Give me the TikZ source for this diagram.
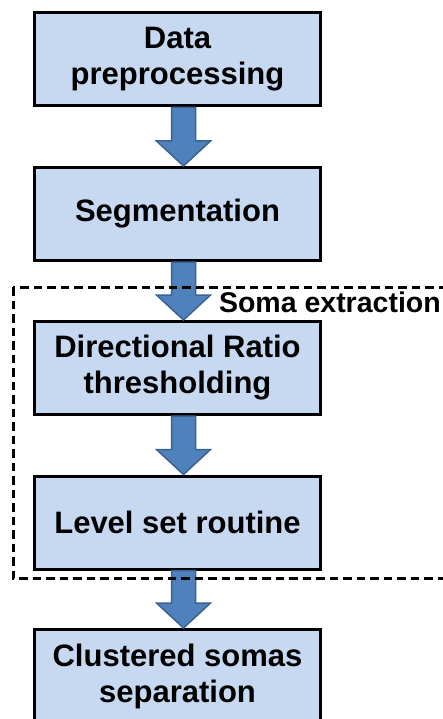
\documentclass[tikz,border=0pt]{standalone}
\usepackage{fontspec}
\setmainfont{Liberation Sans}
\usetikzlibrary{calc}
\definecolor{boxfill}{HTML}{C6D9F1}
\definecolor{arrowfill}{HTML}{4F81BD}
\definecolor{arrowline}{HTML}{3A6394}
\tikzset{
  stage/.style={draw=black, line width=3pt, fill=boxfill, minimum width=286pt, minimum height=93pt,
    inner sep=0pt, align=center, font=\fontsize{31}{36}\selectfont\bfseries},
  flowarrow/.style={fill=arrowfill, draw=arrowline, line width=1.5pt, line join=miter},
  somaframe/.style={draw=black, line width=3pt, dash pattern=on 8.5pt off 5pt}
}
\begin{document}
\begin{tikzpicture}[x=1pt, y=-1pt]
  \useasboundingbox (0,0) rectangle (443,719);
  \clip (0,0) rectangle (443,719);
  \node[stage] (prep) at (177.5, 59.5) {Data\\preprocessing};
  \node[stage] (seg) at (177.5, 214) {Segmentation};
  \node[stage] (ratio) at (177.5, 368) {Directional Ratio\\thresholding};
  \node[stage] (level) at (177.5, 522.5) {Level set routine};
  \node[stage] (sep) at (177.5, 676) {Clustered somas\\separation};
  \foreach \a/\b in {prep/seg, seg/ratio, ratio/level, level/sep} {
    \draw[flowarrow] ($(\a.south)+(-6,0)$) -- ($(\a.south)+(18,0)$) -- ($(\b.north)+(18,-25)$)
      -- ($(\b.north)+(33,-25)$) -- ($(\b.north)+(6,0)$) -- ($(\b.north)+(-21,-25)$)
      -- ($(\b.north)+(-6,-25)$) -- cycle;
  }
  \coordinate (frameNW) at (13, 287);
  \coordinate (frameSE) at (452, 578);
  \draw[somaframe] (frameNW) rectangle (frameSE);
  \node[anchor=base east, inner sep=0pt, font=\fontsize{28.5}{32}\selectfont\bfseries] (somalabel) at (441, 312) {Soma extraction};
\end{tikzpicture}
\end{document}
